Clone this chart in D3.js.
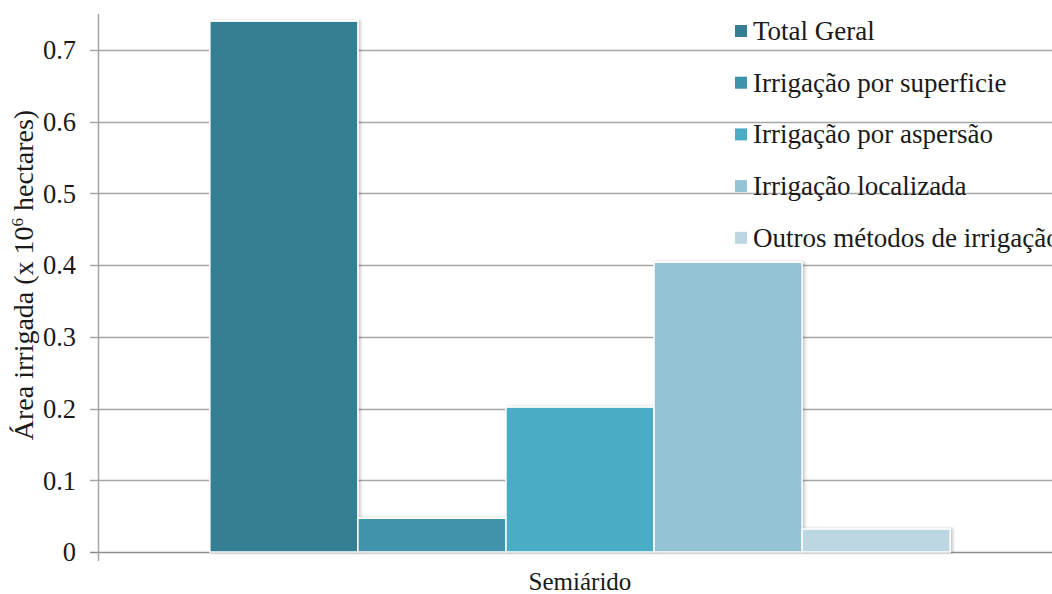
<!DOCTYPE html>
<html><head><meta charset="utf-8">
<script src="https://cdn.jsdelivr.net/npm/d3@7"></script>
<style>html,body{margin:0;padding:0;background:#fff;}svg{display:block;}</style>
</head><body>
<svg id="chart" width="1052" height="594"></svg>
<script>
const categories = ["Semiárido"];
const seriesNames = ["Total Geral","Irrigação por superficie","Irrigação por aspersão","Irrigação localizada","Outros métodos de irrigação"];
const seriesValues = [0.74, 0.047, 0.202, 0.404, 0.032];
const seriesColors = ["#367f93","#3f93aa","#4bacc6","#93c3d4","#bcd7e2"];
const yTicks = [0,0.1,0.2,0.3,0.4,0.5,0.6,0.7];
const yTitle = "Área irrigada (x 10";
const yTitleSup = "6";
const yTitleEnd = " hectares)";

const svg = d3.select("#chart");
const FONT = '"Liberation Serif"';
const plotLeft = 98, plotRight = 1062, plotTop = 14, plotBottom = 552;

const y = d3.scaleLinear().domain([0,0.75]).range([plotBottom, plotTop]);
const x0 = d3.scaleBand().domain(categories).range([plotLeft, plotRight]).paddingInner(0.232).paddingOuter(0.116);
const x1 = d3.scaleBand().domain(seriesNames).range([0, x0.bandwidth()]).padding(0);

const defs = svg.append("defs");
const f = defs.append("filter").attr("id","sh").attr("x","-10%").attr("y","-10%").attr("width","130%").attr("height","120%");
f.append("feDropShadow").attr("dx",2).attr("dy",0).attr("stdDeviation",1.6).attr("flood-color","#000").attr("flood-opacity",0.22);

// gridlines
svg.append("g").selectAll("line").data(yTicks).join("line")
  .attr("x1", plotLeft-8).attr("x2", 1052)
  .attr("y1", d=>Math.round(y(d))+0.5).attr("y2", d=>Math.round(y(d))+0.5)
  .attr("stroke", d=> d===0 ? "#8c8c8c" : "#a6a6a6").attr("stroke-width",1.5);

// axis line
svg.append("line").attr("x1",plotLeft+0.5).attr("x2",plotLeft+0.5).attr("y1",plotTop).attr("y2",plotBottom+9)
  .attr("stroke","#a6a6a6").attr("stroke-width",1.5);

// tick labels
svg.append("g").selectAll("text").data(yTicks).join("text")
  .attr("x", 76).attr("y", d=>y(d)).attr("dy","0.35em")
  .attr("text-anchor","end").style("font-family",FONT).style("font-size","26.5px").attr("fill","#1a1a1a")
  .text(d=> d===0 ? "0" : d3.format(".1f")(d));

// bars
const g = svg.append("g");
categories.forEach(cat=>{
  g.selectAll("rect.b").data(seriesNames.map((s,i)=>({s, v:seriesValues[i], c:seriesColors[i]}))).join("rect")
    .attr("class","b")
    .attr("x", d=>x0(cat)+x1(d.s))
    .attr("width", x1.bandwidth())
    .attr("y", d=>y(d.v))
    .attr("height", d=>y(0)-y(d.v))
    .attr("fill", d=>d.c)
    .attr("stroke","#fff").attr("stroke-width",1.5)
    .attr("filter","url(#sh)");
});

// x label
svg.append("text").attr("x", x0(categories[0])+x0.bandwidth()/2).attr("y", 590)
  .attr("text-anchor","middle").style("font-family",FONT).style("font-size","25px").attr("fill","#1a1a1a")
  .text(categories[0]);

// y title
const yt = svg.append("text").attr("transform","translate(33,275) rotate(-90)")
  .attr("text-anchor","middle").style("font-family",FONT).style("font-size","28px").attr("fill","#1a1a1a");
yt.append("tspan").text(yTitle);
yt.append("tspan").attr("dy",-10).style("font-size","17px").text(yTitleSup);
yt.append("tspan").attr("dy",10).text(yTitleEnd);

// legend
const lg = svg.append("g");
seriesNames.forEach((s,i)=>{
  const base = 40 + i*51.7;
  lg.append("rect").attr("x",735).attr("y",base-15).attr("width",12).attr("height",12).attr("fill",seriesColors[i]);
  lg.append("text").attr("x",753).attr("y",base)
    .style("font-family",FONT).style("font-size","27px").attr("fill","#1a1a1a").text(s);
});
</script>
</body></html>
